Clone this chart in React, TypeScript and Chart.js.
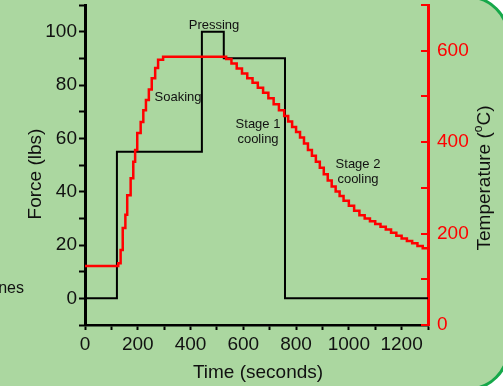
import React, { useEffect, useRef } from "react";
import { Chart, registerables } from "chart.js";
Chart.register(...registerables);

const FONT = "'Liberation Sans', Arial, Helvetica, sans-serif";
const BG = "#abd7a0";
const BORDER = "#16a84a";

// Force (black, left axis)
const forceTime = [0, 121, 121, 443, 443, 526, 526, 758, 758, 1300];
const forceLbs = [0, 0, 55, 55, 100, 100, 90, 90, 0, 0];

// Temperature (red, right axis) - stepped readings
const tempTime = [
  0, 126, 135, 143, 153, 160, 173, 183, 190, 198, 211, 221, 231, 242, 253, 266, 277, 296,
  535, 555, 575, 595, 615, 635, 655, 675, 695, 715, 735, 755, 770, 785, 800, 815, 830, 845,
  860, 875, 890, 905, 920, 935, 950, 965, 980, 1000, 1020, 1040, 1060, 1080, 1100, 1120,
  1140, 1160, 1180, 1200, 1220, 1240, 1260, 1280, 1300,
];
const tempC = [
  129, 135, 164, 212, 241, 284, 321, 357, 383, 420, 444, 470, 492, 515, 540, 562, 580, 587,
  582, 572, 561, 550, 540, 530, 519, 508, 496, 483, 470, 457, 445, 433, 422, 410, 397, 383,
  370, 357, 344, 330, 316, 303, 292, 282, 272, 261, 250, 240, 233, 227, 221, 215,
  209, 202, 195, 189, 184, 179, 173, 168, 165,
];

const xLabelTicks = [0, 200, 400, 600, 800, 1000, 1200];
const forceLabelTicks = [0, 20, 40, 60, 80, 100];
const tempLabelTicks = [0, 200, 400, 600];

const notes = [
  { lines: ["Pressing"], x: 214, y: 25 },
  { lines: ["Soaking"], x: 178, y: 97 },
  { lines: ["Stage 1", "cooling"], x: 258, y: 124 },
  { lines: ["Stage 2", "cooling"], x: 358, y: 164 },
];

export default function App() {
  const ref = useRef<HTMLCanvasElement>(null);
  useEffect(() => {
    const canvas = ref.current!;
    const bgPlugin = {
      id: "bg",
      beforeDraw(chart: any) {
        const ctx = chart.ctx;
        ctx.save();
        ctx.fillStyle = "#ffffff";
        ctx.fillRect(0, 0, chart.width, chart.height);
        ctx.beginPath();
        ctx.roundRect(-30, -3, 538, 392, 40);
        ctx.fillStyle = BG;
        ctx.fill();
        ctx.lineWidth = 3;
        ctx.strokeStyle = BORDER;
        ctx.stroke();
        ctx.restore();
      },
    };
    const textPlugin = {
      id: "texts",
      afterDraw(chart: any) {
        const ctx = chart.ctx;
        const y1 = chart.scales.y1;
        const area = chart.chartArea;
        ctx.save();
        // inward ticks for right axis
        ctx.strokeStyle = "#ff0000";
        ctx.lineWidth = 2;
        for (let v = 0; v <= 700; v += 100) {
          const py = Math.round(y1.getPixelForValue(v));
          ctx.beginPath();
          ctx.moveTo(area.right - 7, py);
          ctx.lineTo(area.right, py);
          ctx.stroke();
        }
        // annotations
        ctx.fillStyle = "#111";
        ctx.font = `13px ${FONT}`;
        ctx.textAlign = "center";
        ctx.textBaseline = "middle";
        notes.forEach((n) => {
          n.lines.forEach((l, i) => ctx.fillText(l, n.x, n.y + i * 15));
        });
        // cut-off text on the left
        ctx.font = `16px ${FONT}`;
        ctx.textAlign = "right";
        ctx.textBaseline = "alphabetic";
        ctx.fillText("nes", 24, 293);
        // axis titles
        ctx.font = `19px ${FONT}`;
        ctx.textAlign = "center";
        ctx.fillText("Time (seconds)", 258, 378);
        ctx.save();
        ctx.translate(41, 174);
        ctx.rotate(-Math.PI / 2);
        ctx.fillText("Force (lbs)", 0, 0);
        ctx.restore();
        ctx.save();
        ctx.translate(490, 178);
        ctx.rotate(-Math.PI / 2);
        const a = "Temperature (";
        const b = "o";
        const c = "C)";
        ctx.font = `19px ${FONT}`;
        const wa = ctx.measureText(a).width;
        const wc = ctx.measureText(c).width;
        ctx.font = `12px ${FONT}`;
        const wb = ctx.measureText(b).width;
        const total = wa + wb + wc;
        const x0 = -total / 2;
        ctx.textAlign = "left";
        ctx.font = `19px ${FONT}`;
        ctx.fillText(a, x0, 0);
        ctx.font = `12px ${FONT}`;
        ctx.fillText(b, x0 + wa, -8);
        ctx.font = `19px ${FONT}`;
        ctx.fillText(c, x0 + wa + wb, 0);
        ctx.restore();
        ctx.restore();
      },
    };
    const fitY = (w: number) => (s: any) => {
      s.width = w;
      s.paddingTop = 0;
      s.paddingBottom = 0;
    };
    const chart = new Chart(canvas, {
      type: "line",
      data: {
        datasets: [
          {
            label: "Temperature",
            data: tempTime.map((t, i) => ({ x: t, y: tempC[i] })),
            borderColor: "#ff0000",
            borderWidth: 2.5,
            pointRadius: 0,
            stepped: "before",
            yAxisID: "y1",
          },
          {
            label: "Force",
            data: forceTime.map((t, i) => ({ x: t, y: forceLbs[i] })),
            borderColor: "#000000",
            borderWidth: 2,
            pointRadius: 0,
            tension: 0,
            yAxisID: "y",
          },
        ],
      },
      options: {
        responsive: false,
        animation: false,
        devicePixelRatio: 1,
        layout: { padding: { top: 5, left: 0, right: 0, bottom: 0 } },
        plugins: { legend: { display: false }, tooltip: { enabled: false } },
        scales: {
          x: {
            type: "linear",
            min: 0,
            max: 1300,
            afterFit: (s: any) => {
              s.height = 61;
              s.paddingLeft = 0;
              s.paddingRight = 0;
            },
            border: { display: true, color: "#000", width: 2.5 },
            grid: { display: true, drawOnChartArea: false, drawTicks: true, tickLength: 5, tickWidth: 2, tickColor: "#000" },
            ticks: {
              stepSize: 100,
              autoSkip: false,
              maxRotation: 0,
              padding: 3,
              color: "#111",
              font: { family: FONT, size: 19 },
              callback: (v: any) => (xLabelTicks.includes(v) ? String(v) : ""),
            },
          },
          y: {
            type: "linear",
            position: "left",
            min: -10,
            max: 110,
            afterFit: fitY(85),
            border: { display: true, color: "#000", width: 3 },
            grid: { display: true, drawOnChartArea: false, drawTicks: true, tickLength: 6, tickWidth: 2, tickColor: "#000" },
            ticks: {
              stepSize: 10,
              autoSkip: false,
              padding: 2,
              color: "#111",
              font: { family: FONT, size: 19 },
              callback: (v: any) => (forceLabelTicks.includes(v) ? String(v) : ""),
            },
          },
          y1: {
            type: "linear",
            position: "right",
            min: 0,
            max: 700,
            afterFit: fitY(75),
            border: { display: true, color: "#ff0000", width: 3 },
            grid: { display: true, drawOnChartArea: false, drawTicks: false },
            ticks: {
              stepSize: 100,
              autoSkip: false,
              padding: 9,
              color: "#ff0000",
              font: { family: FONT, size: 19 },
              callback: (v: any) => (tempLabelTicks.includes(v) ? String(v) : ""),
            },
          },
        },
      },
      plugins: [bgPlugin, textPlugin],
    });
    return () => chart.destroy();
  }, []);
  return (
    <div style={{ position: "absolute", left: 0, top: 0, width: 503, height: 386 }}>
      <canvas ref={ref} width={503} height={386} style={{ width: 503, height: 386, display: "block" }} />
    </div>
  );
}
